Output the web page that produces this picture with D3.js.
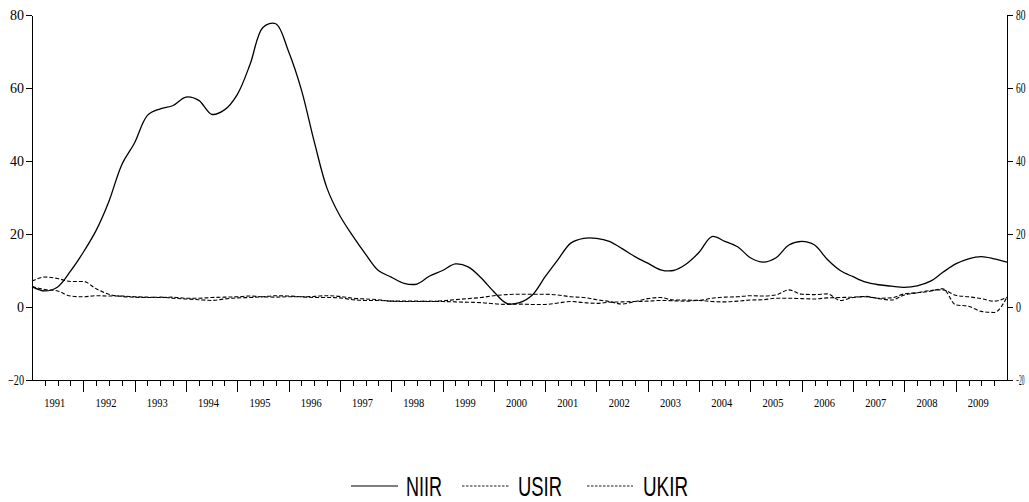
<!DOCTYPE html>
<html>
<head>
<meta charset="utf-8">
<script src="https://cdn.jsdelivr.net/npm/d3@7"></script>
<style>
  body { margin: 0; background: #fff; }
  .axis path, .axis line { stroke: #000; stroke-width: 1; shape-rendering: crispEdges; }
</style>
</head>
<body>
<div id="chart"></div>
<script>
// Chart constants
const PLOT_WIDTH = 1029;
const PLOT_HEIGHT = 502;
const AXIS = { LEFT: 32, RIGHT: 1007, TOP: 15, BOTTOM: 380 };
const SERIF = "'Liberation Serif', 'Times New Roman', serif";

// Data: quarterly observations 1991Q1 .. 2010Q1 (inflation, %)
const YEARS = [1991, 1992, 1993, 1994, 1995, 1996, 1997, 1998, 1999, 2000,
  2001, 2002, 2003, 2004, 2005, 2006, 2007, 2008, 2009];
const Y_TICKS = [-20, 0, 20, 40, 60, 80];
const QUARTERS = d3.range(77).map(i => 1991 + i / 4);

const NIIR = [5.6, 4.4, 5.5, 9.8, 15, 21, 29, 39, 45, 52.5,
  54.3, 55.2, 57.5, 56.6, 52.8, 54, 58.2, 66.5, 76.6, 77.6,
  70, 59.5, 45.3, 32.5, 25, 19.5, 14.5, 10, 8.2, 6.5,
  6.3, 8.5, 10, 11.8, 11, 8, 4.2, 1.0, 1.2, 3.3,
  8.3, 13, 17.5, 18.8, 18.8, 18, 16, 13.8, 12, 10.2,
  10, 11.8, 15, 19.3, 18, 16.5, 13.5, 12.3, 13.5, 17,
  18, 17, 13, 10, 8.3, 6.8, 6.1, 5.7, 5.4, 5.8,
  7, 9.5, 11.8, 13.2, 13.8, 13.2, 12.3];

const USIR = [5.6, 4.8, 4.4, 3.0, 2.8, 3.1, 3.0, 3.0, 2.8, 2.7,
  2.6, 2.7, 2.4, 2.4, 2.6, 2.7, 2.8, 3.0, 2.8, 2.7,
  2.8, 2.8, 2.9, 3.1, 2.9, 2.4, 2.2, 2.0, 1.6, 1.6,
  1.6, 1.5, 1.7, 2.0, 2.3, 2.6, 3.1, 3.4, 3.5, 3.5,
  3.5, 3.3, 2.8, 2.6, 2.0, 1.5, 0.8, 1.5, 2.3, 2.6,
  1.9, 1.9, 1.8, 2.4, 2.7, 2.8, 3.1, 3.0, 3.3, 4.7,
  3.5, 3.4, 3.6, 1.8, 2.6, 2.8, 2.4, 2.5, 3.6, 3.9,
  4.3, 5.0, 0.6, 0.2, -1.2, -1.5, 2.7];

const UKIR = [7.1, 8.2, 7.8, 7.0, 7.0, 5.0, 3.5, 2.9, 2.7, 2.6,
  2.7, 2.4, 2.2, 2.0, 1.8, 2.2, 2.5, 2.6, 2.8, 3.1,
  3.0, 2.8, 2.6, 2.6, 2.5, 2.0, 1.8, 1.8, 1.6, 1.5,
  1.5, 1.6, 1.5, 1.4, 1.3, 1.2, 0.9, 0.7, 0.8, 0.7,
  0.7, 1.1, 1.5, 1.2, 1.0, 1.3, 1.4, 1.5, 1.6, 1.8,
  1.7, 1.6, 1.8, 1.5, 1.4, 1.6, 1.9, 2.0, 2.4, 2.4,
  2.3, 2.2, 2.5, 2.6, 2.7, 2.9, 2.3, 1.9, 3.3, 3.9,
  4.5, 4.7, 3.2, 2.8, 2.3, 1.6, 2.7];

const SERIES = [
  { name: "NIIR", values: NIIR, dash: null, width: 1.3, curve: d3.curveCatmullRom.alpha(0.5) },
  { name: "USIR", values: USIR, dash: "4,2", width: 1.1, curve: d3.curveMonotoneX },
  { name: "UKIR", values: UKIR, dash: "4,2", width: 1.1, curve: d3.curveMonotoneX }
];

const svg = d3.select("#chart").append("svg").attr("width", PLOT_WIDTH).attr("height", PLOT_HEIGHT);

const x = d3.scaleLinear().domain([1991, 2010]).range([AXIS.LEFT, AXIS.RIGHT]);
const y = d3.scaleLinear().domain([-20, 80]).range([AXIS.BOTTOM, AXIS.TOP]);

function styleYLabels(g, widths) {
  g.attr("font-family", SERIF);
  g.selectAll("text")
    .attr("font-size", "14px")
    .attr("fill", "#000")
    .attr("textLength", d => widths[String(d).length - 1])
    .attr("lengthAdjust", "spacingAndGlyphs");
}

// Left axis
const leftAxis = svg.append("g").attr("class", "axis")
  .attr("transform", `translate(${AXIS.LEFT},0)`)
  .call(d3.axisLeft(y).tickValues(Y_TICKS).tickSize(6).tickSizeOuter(0).tickPadding(2));
styleYLabels(leftAxis, [7, 14, 16]);

// Right axis (narrow labels so they stay inside the frame)
const rightAxis = svg.append("g").attr("class", "axis")
  .attr("transform", `translate(${AXIS.RIGHT},0)`)
  .call(d3.axisRight(y).tickValues(Y_TICKS).tickSize(6).tickSizeOuter(0).tickPadding(3));
styleYLabels(rightAxis, [5, 9.5, 8.5]);

// Bottom axis: long ticks at years, short ticks at quarters
const minorTicks = QUARTERS.filter((q, i) => i % 4 !== 0 && q < 2010);
svg.append("g").attr("class", "axis")
  .attr("transform", `translate(0,${AXIS.BOTTOM})`)
  .call(d3.axisBottom(x).tickValues(minorTicks).tickSize(6).tickSizeOuter(0).tickFormat(""));
const bottomAxis = svg.append("g").attr("class", "axis")
  .attr("transform", `translate(0,${AXIS.BOTTOM})`)
  .call(d3.axisBottom(x).tickValues(YEARS.slice(1)).tickSize(12).tickSizeOuter(0).tickFormat(""));
bottomAxis.select(".domain").remove();

svg.append("g").selectAll("text").data(YEARS).enter().append("text")
  .attr("x", d => x(d + 0.5) - 3)
  .attr("y", 407)
  .attr("text-anchor", "middle")
  .attr("font-family", SERIF)
  .attr("font-size", "13.5px")
  .attr("textLength", 21)
  .attr("lengthAdjust", "spacingAndGlyphs")
  .text(d => d);

// Lines
const plot = svg.append("g");
SERIES.forEach(s => {
  const line = d3.line().curve(s.curve).x((d, i) => x(QUARTERS[i])).y(d => y(d));
  plot.append("path")
    .datum(s.values)
    .attr("fill", "none")
    .attr("stroke", "#000")
    .attr("stroke-width", s.width)
    .attr("stroke-dasharray", s.dash)
    .attr("d", line);
});

// Legend
const legendPos = [{ x1: 351, x2: 398, tx: 406, tw: 36 }, { x1: 462, x2: 509, tx: 518, tw: 44 }, { x1: 587, x2: 633, tx: 643, tw: 45 }];
const legend = svg.append("g");
SERIES.forEach((s, i) => {
  const p = legendPos[i];
  legend.append("line").attr("x1", p.x1).attr("x2", p.x2).attr("y1", 486).attr("y2", 486)
    .attr("stroke", "#000").attr("stroke-width", s.dash ? 0.9 : 1.2).attr("stroke-dasharray", s.dash ? "2.5,1.5" : null);
  legend.append("text").attr("x", p.tx).attr("y", 496)
    .attr("font-family", "'Liberation Sans Narrow', 'Liberation Sans', Arial, sans-serif")
    .attr("font-size", "28px")
    .attr("textLength", p.tw)
    .attr("lengthAdjust", "spacingAndGlyphs")
    .text(s.name);
});
</script>
</body>
</html>
